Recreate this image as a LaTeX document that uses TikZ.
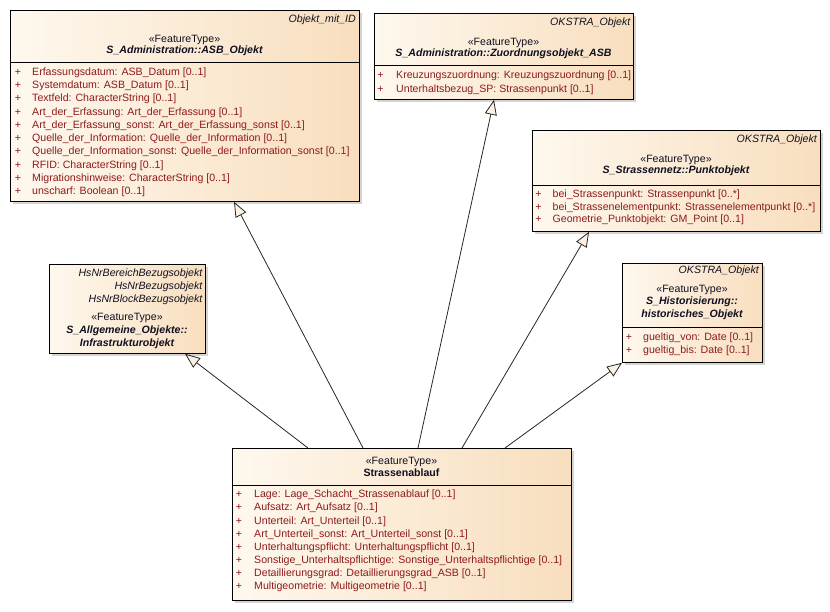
\documentclass[tikz,border=0pt]{standalone}
\usepackage{fontspec}
\setmainfont{Liberation Sans}
\usetikzlibrary{arrows.meta,shadows,calc}
\definecolor{boxl}{HTML}{FEF8EE}
\definecolor{boxr}{HTML}{F8DEBE}
\definecolor{attrc}{HTML}{8E1B1B}
\definecolor{txtc}{HTML}{101020}
\definecolor{tipc}{HTML}{FCF1E2}
\newcommand\dfs{\fontsize{10.6pt}{12pt}\selectfont}
\begin{document}
\begin{tikzpicture}[x=1pt,y=-1pt,
  umlbox/.style={draw=black, line width=0.8pt, left color=boxl, right color=boxr,
    drop shadow={shadow xshift=3pt, shadow yshift=-3pt, fill=black!17, opacity=1},
    inner sep=0pt, anchor=north west},
  sep/.style={draw=black, line width=0.8pt},
  txt/.style={inner sep=0pt, font=\dfs, text=txtc, text height=7.8pt, text depth=2.2pt},
  hdr/.style={txt, anchor=east, font=\dfs\itshape},
  stereo/.style={txt},
  cname/.style={txt, font=\dfs\bfseries\itshape},
  attr/.style={txt, anchor=west, text=attrc},
  plus/.style={txt, text=attrc},
  gen/.style={draw=black!85, line width=0.8pt, -{Triangle[length=15pt,width=12pt,fill=tipc]}}
]
\useasboundingbox (0,0) rectangle (830,611);

% ---------- ASB_Objekt ----------
\node[umlbox, minimum width=349pt, minimum height=191pt] (asb) at (10,10) {};
\draw[sep] ($(asb.north west)+(0,52.7)$) -- ++(349,0);
\node[hdr] (asbh) at (356,19.5) {Objekt\_mit\_ID};
\node[stereo] (asbs) at (184.5,39.5) {«FeatureType»};
\node[cname] (asbn) at (184.5,51) {S\_Administration::ASB\_Objekt};
\foreach \t [count=\i from 0] in {
  Erfassungsdatum: ASB\_Datum [0..1],
  Systemdatum: ASB\_Datum [0..1],
  Textfeld: CharacterString [0..1],
  Art\_der\_Erfassung: Art\_der\_Erfassung [0..1],
  Art\_der\_Erfassung\_sonst: Art\_der\_Erfassung\_sonst [0..1],
  Quelle\_der\_Information: Quelle\_der\_Information [0..1],
  Quelle\_der\_Information\_sonst: Quelle\_der\_Information\_sonst [0..1],
  RFID: CharacterString [0..1],
  Migrationshinweise: CharacterString [0..1],
  unscharf: Boolean [0..1]}
{
  \node[plus] (asbp\i) at (18,72.7+13.22*\i) {+};
  \node[attr] (asba\i) at (32,72.7+13.22*\i) {\t};
}

% ---------- Zuordnungsobjekt_ASB ----------
\node[umlbox, minimum width=259pt, minimum height=86pt] (zuo) at (374,13) {};
\draw[sep] ($(zuo.north west)+(0,52.3)$) -- ++(259,0);
\node[hdr] (zuoh) at (630.5,23) {OKSTRA\_Objekt};
\node[stereo] (zuos) at (503.5,42.5) {«FeatureType»};
\node[cname] (zuon) at (503.5,53.5) {S\_Administration::Zuordnungsobjekt\_ASB};
\node[plus] (zuop0) at (380.5,76) {+};
\node[attr] (zuoa0) at (396,76) {Kreuzungszuordnung: Kreuzungszuordnung [0..1]};
\node[plus] (zuop1) at (380.5,89.3) {+};
\node[attr] (zuoa1) at (396,89.3) {Unterhaltsbezug\_SP: Strassenpunkt [0..1]};

% ---------- Punktobjekt ----------
\node[umlbox, minimum width=288pt, minimum height=101pt] (pkt) at (532,130) {};
\draw[sep] ($(pkt.north west)+(0,55)$) -- ++(288,0);
\node[hdr] (pkth) at (817,140) {OKSTRA\_Objekt};
\node[stereo] (pkts) at (676,159.3) {«FeatureType»};
\node[cname] (pktn) at (676,171) {S\_Strassennetz::Punktobjekt};
\node[plus] (pktp0) at (538.5,195) {+};
\node[attr] (pkta0) at (552.5,195) {bei\_Strassenpunkt: Strassenpunkt [0..*]};
\node[plus] (pktp1) at (538.5,207.5) {+};
\node[attr] (pkta1) at (552.5,207.5) {bei\_Strassenelementpunkt: Strassenelementpunkt [0..*]};
\node[plus] (pktp2) at (538.5,220) {+};
\node[attr] (pkta2) at (552.5,220) {Geometrie\_Punktobjekt: GM\_Point [0..1]};

% ---------- Infrastrukturobjekt ----------
\node[umlbox, minimum width=156pt, minimum height=89pt] (inf) at (49,264) {};
\node[hdr] (infh0) at (202.5,274) {HsNrBereichBezugsobjekt};
\node[hdr] (infh1) at (202.5,286.7) {HsNrBezugsobjekt};
\node[hdr] (infh2) at (202.5,299.2) {HsNrBlockBezugsobjekt};
\node[stereo] (infs) at (127,317.7) {«FeatureType»};
\node[cname] (infn0) at (127,330.2) {S\_Allgemeine\_Objekte::};
\node[cname] (infn1) at (127,343.2) {Infrastrukturobjekt};

% ---------- historisches_Objekt ----------
\node[umlbox, minimum width=140pt, minimum height=99pt] (his) at (622,263) {};
\draw[sep] ($(his.north west)+(0,64)$) -- ++(140,0);
\node[hdr] (hish) at (759,271) {OKSTRA\_Objekt};
\node[stereo] (hiss) at (692,290) {«FeatureType»};
\node[cname] (hisn0) at (692,302) {S\_Historisierung::};
\node[cname] (hisn1) at (692,315) {historisches\_Objekt};
\node[plus] (hisp0) at (629,337.5) {+};
\node[attr] (hisa0) at (643,337.5) {gueltig\_von: Date [0..1]};
\node[plus] (hisp1) at (629,350.5) {+};
\node[attr] (hisa1) at (643,350.5) {gueltig\_bis: Date [0..1]};

% ---------- Strassenablauf ----------
\node[umlbox, minimum width=339pt, minimum height=152pt] (sa) at (232,448) {};
\draw[sep] ($(sa.north west)+(0,37)$) -- ++(339,0);
\node[stereo] (sas) at (401.5,461.7) {«FeatureType»};
\node[txt, font=\dfs\bfseries] (san) at (401.5,473.5) {Strassenablauf};
\foreach \t [count=\i from 0] in {
  Lage: Lage\_Schacht\_Strassenablauf [0..1],
  Aufsatz: Art\_Aufsatz [0..1],
  Unterteil: Art\_Unterteil [0..1],
  Art\_Unterteil\_sonst: Art\_Unterteil\_sonst [0..1],
  Unterhaltungspflicht: Unterhaltungspflicht [0..1],
  Sonstige\_Unterhaltspflichtige: Sonstige\_Unterhaltspflichtige [0..1],
  Detaillierungsgrad: Detaillierungsgrad\_ASB [0..1],
  Multigeometrie: Multigeometrie [0..1]}
{
  \node[plus] (sap\i) at (239,495+13.1*\i) {+};
  \node[attr] (saa\i) at (254,495+13.1*\i) {\t};
}

% ---------- generalizations ----------
\draw[gen] ($(sa.north west)+(76,0)$) -- ($(inf.south west)+(136,0)$);
\draw[gen] ($(sa.north west)+(131,0)$) -- ($(asb.south west)+(224,0)$);
\draw[gen] ($(sa.north west)+(186,0)$) -- ($(zuo.south west)+(120,0)$);
\draw[gen] ($(sa.north west)+(230,0)$) -- ($(pkt.south west)+(57,0)$);
\draw[gen] ($(sa.north west)+(273,0)$) -- (his.south west);
\end{tikzpicture}
\end{document}
